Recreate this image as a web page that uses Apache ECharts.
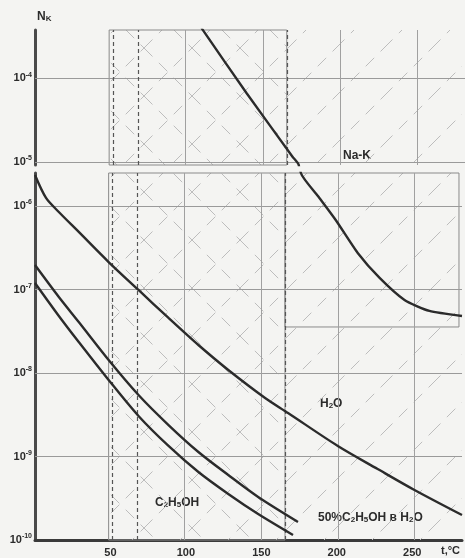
<!DOCTYPE html>
<html>
<head>
<meta charset="utf-8">
<script src="https://cdn.jsdelivr.net/npm/echarts@6.0.0/dist/echarts.min.js"></script>
<style>html,body{margin:0;padding:0;background:#f4f4f2;}#c{width:465px;height:558px;}</style>
</head>
<body>
<div id="c"></div>
<script>
// ---- data: [t, log10(N_K)] ----
const naK = [[109.5,-3.40],[139.3,-4.18],[169.6,-4.94],[173.6,-5.036],[176.2,-5.605],[187.5,-5.88],[199.3,-6.168],[213.9,-6.563],[228.4,-6.862],[244.9,-7.126],[261.4,-7.257],[283,-7.317]];
const h2o = [[0,-5.63],[7.3,-5.904],[15.8,-6.072],[29.0,-6.311],[48.8,-6.671],[68.6,-7.006],[88.5,-7.341],[108.3,-7.665],[128.1,-7.964],[152.5,-8.299],[167.7,-8.479],[200.7,-8.874],[227.1,-9.15],[251.5,-9.401],[283,-9.701]];
const eth50 = [[0,-6.707],[15.8,-7.09],[29.0,-7.389],[48.8,-7.844],[68.6,-8.263],[88.5,-8.623],[108.3,-8.946],[128.1,-9.222],[147.9,-9.485],[174.3,-9.784]];
const eth = [[0,-6.922],[15.8,-7.317],[29.0,-7.629],[48.8,-8.084],[68.6,-8.515],[88.5,-8.874],[108.3,-9.186],[128.1,-9.449],[147.9,-9.689],[171.0,-9.94]];
const xTicks = [50,100,150,200,250];
const yTicksTop = [-5,-4];
const yTicksLow = [-10,-9,-8,-7,-6];
const vDashed = [51.5,68,165.7];
const vSolid = [99,150,200.7,251.5];

const FONT = '"Liberation Sans", Arial, sans-serif';
const INK = '#2b2b2b';

function hatch(cross){
  const n=48;
  const c=document.createElement('canvas'); c.width=c.height=n;
  const g=c.getContext('2d'); g.strokeStyle='#bdbdbd'; g.lineWidth=1; g.setLineDash([12,9]);
  g.beginPath(); g.moveTo(0,n); g.lineTo(n,0);
  if(cross){ g.moveTo(0,0); g.lineTo(n,n); }
  g.stroke(); return c;
}
const crossPat = {image:hatch(true),repeat:'repeat'};
const slashPat = {image:hatch(false),repeat:'repeat'};

const yLabelFmt = v => '{a|10}{s|' + String(v) + '}';
const yRich = {a:{fontSize:11,fontWeight:'bold',color:INK,fontFamily:FONT,lineHeight:14},
               s:{fontSize:7,fontWeight:'bold',color:INK,fontFamily:FONT,verticalAlign:'top',lineHeight:9}};

function vLines(){
  const d=[];
  vDashed.forEach(x=>d.push({xAxis:x,lineStyle:{type:[4,3],color:'#555',width:1.2}}));
  vSolid.forEach(x=>d.push({xAxis:x,lineStyle:{type:'solid',color:'#a0a0a0',width:1}}));
  return d;
}
const border = {borderColor:'#8a8a8a',borderWidth:1};

const curveStyle = {color:INK,width:2.4};
const chart = echarts.init(document.getElementById('c'),null,{renderer:'canvas'});
chart.setOption({
  backgroundColor:'#f4f4f2',
  animation:false,
  grid:[{left:35,right:0,top:30,height:135},{left:35,right:0,top:173,height:367}],
  xAxis:[
    {gridIndex:0,type:'value',min:0,max:283,show:false},
    {gridIndex:1,type:'value',min:0,max:283,interval:50,
     axisLine:{onZero:false,lineStyle:{color:'#3a3a3a',width:3}},axisTick:{show:false},splitLine:{show:false},
     axisLabel:{formatter:v=>xTicks.indexOf(v)>=0?String(v):'',color:INK,fontWeight:'bold',fontSize:11,fontFamily:FONT,margin:7}}
  ],
  yAxis:[
    {gridIndex:0,type:'value',min:-5.036,max:-3.425,
     axisLine:{show:true,onZero:false,lineStyle:{color:'#4a4a4a',width:3}},axisTick:{show:false},splitLine:{show:false},
     axisLabel:{customValues:yTicksTop,formatter:yLabelFmt,rich:yRich,margin:3}},
    {gridIndex:1,type:'value',min:-10,max:-5.605,
     axisLine:{show:true,onZero:false,lineStyle:{color:'#4a4a4a',width:3}},axisTick:{show:false},splitLine:{show:false},
     axisLabel:{customValues:yTicksLow,formatter:yLabelFmt,rich:yRich,margin:3}}
  ],
  series:[
    {type:'line',xAxisIndex:0,yAxisIndex:0,data:naK,symbol:'none',smooth:0.2,lineStyle:curveStyle,clip:true,
     markArea:{silent:true,data:[
       [{xAxis:48.8,yAxis:-5.036,itemStyle:Object.assign({color:crossPat},border)},{xAxis:165.7,yAxis:-3.425}],
       [{xAxis:165.7,yAxis:-5.036,itemStyle:{color:slashPat}},{xAxis:281,yAxis:-3.425}]
     ]},
     markLine:{silent:true,symbol:'none',z:1,label:{show:false},
       data:[{yAxis:-4,lineStyle:{type:'solid',color:'#9a9a9a',width:1}},{yAxis:-5,lineStyle:{type:'solid',color:'#9a9a9a',width:1}}].concat(vLines())}
    },
    {type:'line',xAxisIndex:1,yAxisIndex:1,data:naK,symbol:'none',smooth:0.2,lineStyle:curveStyle,clip:true},
    {type:'line',xAxisIndex:1,yAxisIndex:1,data:h2o,symbol:'none',smooth:0.3,lineStyle:curveStyle,clip:true,
     markArea:{silent:true,data:[
       [{xAxis:48.8,yAxis:-10,itemStyle:Object.assign({color:crossPat},border)},{xAxis:165.7,yAxis:-5.605}],
       [{xAxis:165.7,yAxis:-7.449,itemStyle:Object.assign({color:slashPat},border)},{xAxis:281,yAxis:-5.605}],
       [{xAxis:165.7,yAxis:-10,itemStyle:{color:slashPat}},{xAxis:283,yAxis:-7.449}]
     ]},
     markLine:{silent:true,symbol:'none',z:1,label:{show:false},
       data:yTicksLow.slice(1).map(v=>({yAxis:v,lineStyle:{type:'solid',color:'#9a9a9a',width:1}})).concat(vLines())}
    },
    {type:'line',xAxisIndex:1,yAxisIndex:1,data:eth50,symbol:'none',smooth:0.3,lineStyle:curveStyle},
    {type:'line',xAxisIndex:1,yAxisIndex:1,data:eth,symbol:'none',smooth:0.3,lineStyle:curveStyle}
  ],
  graphic:(function(){
    const A={fontSize:12,fontWeight:'bold',fontFamily:FONT,fill:INK};
    const S={fontSize:8,fontWeight:'bold',fontFamily:FONT,fill:INK,verticalAlign:'bottom'};
    const t=(x,y,txt,size)=>({type:'text',left:x,top:y,silent:true,style:{text:txt,rich:{a:Object.assign({},A,size?{fontSize:size}:{}),s:S},fill:INK}});
    return [
      t(37,11,'{a|N}{s|K}',12),
      t(343,150,'{a|Na-K}'),
      t(320,398,'{a|H}{s|2}{a|O}'),
      t(155,497,'{a|C}{s|2}{a|H}{s|5}{a|OH}'),
      t(318,512,'{a|50%C}{s|2}{a|H}{s|5}{a|OH в H}{s|2}{a|O}'),
      t(441,545,'{a|t,°C}',11)
    ];
  })()
});
</script>
</body>
</html>
